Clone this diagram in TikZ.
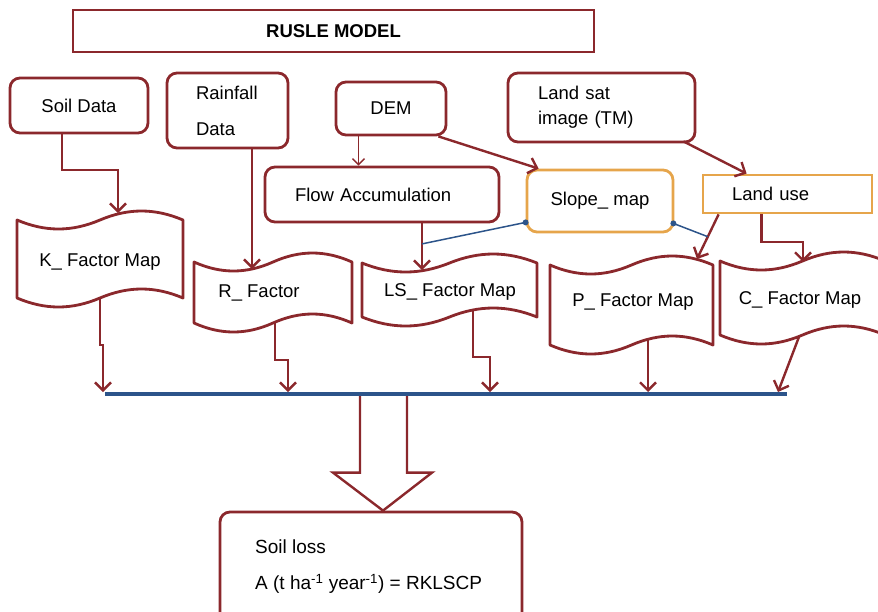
\documentclass[tikz,border=0pt]{standalone}
\usepackage{fontspec}
\setmainfont{Liberation Sans}
\usetikzlibrary{arrows.meta,calc,backgrounds}
\definecolor{dred}{RGB}{139,40,44}
\definecolor{gold}{RGB}{230,165,75}
\definecolor{dblue}{RGB}{44,84,138}
\newcommand{\tapepath}[4]{%
  \draw[tape] (#1,#3)
    .. controls ({#1+0.17*(#2-#1)},{#3+12}) and ({#1+0.33*(#2-#1)},{#3+12}) .. ({0.5*(#1+#2)},#3)
    .. controls ({#1+0.67*(#2-#1)},{#3-12}) and ({#1+0.83*(#2-#1)},{#3-12}) .. (#2,#3)
    -- (#2,#4)
    .. controls ({#1+0.83*(#2-#1)},{#4-12}) and ({#1+0.67*(#2-#1)},{#4-12}) .. ({0.5*(#1+#2)},#4)
    .. controls ({#1+0.33*(#2-#1)},{#4+12}) and ({#1+0.17*(#2-#1)},{#4+12}) .. (#1,#4) -- cycle;}
\tikzset{
  fs/.style={font=\fontsize{18.5}{22}\selectfont},
  rbox/.style={draw=dred, line width=2.8pt, rounded corners=10pt, fill=white, fs, inner sep=0pt},
  obox/.style={draw=gold, line width=2.8pt, fill=white, fs, inner sep=0pt},
  tape/.style={draw=dred, line width=2.8pt, fill=white, line join=round},
  arr/.style={draw=dred, line width=2.4pt, -{Straight Barb[length=8pt,width=16pt]}},
  thinarr/.style={draw=dred, line width=1.4pt, -{Straight Barb[length=6pt,width=12pt]}},
  link/.style={draw=dblue, line width=1.5pt},
  hollow/.style={draw=dred, line width=2.4pt, line join=miter},
  bar/.style={draw=dblue, line width=3.2pt},
  ttext/.style={fs, inner sep=2pt},
}
\begin{document}
\begin{tikzpicture}[x=1pt,y=-1pt]
\useasboundingbox (0,0) rectangle (878,611);

% title
\node[draw=dred, line width=2.6pt, minimum width=521pt, minimum height=42pt, inner sep=0pt,
      font=\bfseries\fontsize{18.5}{22}\selectfont] (title) at (333.5,31) {RUSLE MODEL};

% input boxes
\node[rbox, minimum width=138pt, minimum height=55pt] (soil) at (79,105.5) {Soil Data};
\node[rbox, minimum width=121pt, minimum height=75pt, text width=63pt, inner xsep=29pt, align=left]
     (rain) at (227.5,110.5) {Rainfall\\[14pt]Data};
\node[rbox, minimum width=110pt, minimum height=53pt] (dem) at (391,108.5) {DEM};
\node[rbox, minimum width=187pt, minimum height=69pt, text width=127pt, inner xsep=30pt, align=left,
      font=\fontsize{18.5}{25}\selectfont] (landsat) at (601.5,107.5) {Land sat\\image (TM)};
\node[rbox, minimum width=234pt, minimum height=55pt, text width=174pt, inner xsep=30pt, align=left]
     (flow) at (382,194.5) {Flow Accumulation};
\node[obox, rounded corners=10pt, minimum width=146pt, minimum height=62pt] (slope) at (600,201) {Slope\_ map};
\node[obox, minimum width=169pt, minimum height=38pt, text width=111pt, inner xsep=29pt, align=left]
     (landuse) at (787.5,194) {Land use};

% factor maps (punched tape shapes)
\tapepath{17}{183}{220}{298}
\node[ttext] (kmap) at (100,262) {K\_ Factor Map};
\tapepath{194}{352}{262}{323}
\node[ttext] (rmap) at (259,293) {R\_ Factor};
\tapepath{362}{537}{263}{317}
\node[ttext] (lsmap) at (450,292) {LS\_ Factor Map};
\tapepath{550}{713}{265}{345}
\node[ttext] (pmap) at (633,302) {P\_ Factor Map};
\tapepath{720}{885}{261}{335}
\node[ttext] (cmap) at (800,300) {C\_ Factor Map};

% entry points on the maps
\coordinate (kin) at (118,213);
\coordinate (rin) at (252,269);
\coordinate (lsin) at (422,270);
\coordinate (pin) at (697,259);
\coordinate (cin) at (803,262);

% incoming connectors
\draw[arr] ($(soil.south)+(-17,0)$) |- ($(kin)+(0,-43)$) -| (kin);
\draw[arr] (rain.south -| rin) -- (rin);
\coordinate (demo) at ($(dem.south west)+(24,0)$);
\draw[thinarr] (demo) -- (demo |- flow.north);
\draw[arr] ($(dem.south east)+(-9,0)$) -- ($(slope.north west)+(13,0)$);
\draw[arr] (flow.south -| lsin) -- (lsin);
\draw[arr] ($(landsat.south east)+(-13,-2)$) -- ($(landuse.north west)+(45,0)$);
\coordinate (lup) at ($(landuse.south west)+(17,0)$);
\draw[arr] (lup) -- (pin);
\draw[arr] ($(landuse.south west)+(60,0)$) |- ($(cin)+(0,-20)$) -| (cin);

% blue links from slope map
\coordinate (sl1) at ($(slope.south west)+(0,-11)$);
\draw[link] (sl1) -- ($(flow.south -| lsin)!0.44!(lsin)$);
\fill[dblue] (sl1) circle (3pt);
\coordinate (sl2) at ($(slope.south east)+(-1,-10)$);
\draw[link] (sl2) -- ($(lup)!0.5!(pin)$);
\fill[dblue] (sl2) circle (3pt);

% collecting bar
\coordinate (barL) at (105,394);
\coordinate (barR) at (787,394);
\coordinate (bK) at (103,392);
\coordinate (bR) at (288,392);
\coordinate (bLS) at (490,392);
\coordinate (bP) at (648,392);
\coordinate (bC) at (778,392);

\begin{scope}[on background layer]
  \draw[arr] (kmap.south) |- ($(bK)+(0,-47)$) -| (bK);
  \draw[arr] ($(rmap.south)+(16,0)$) |- ($(bR)+(0,-32)$) -| (bR);
  \draw[arr] ($(lsmap.south)+(23,0)$) |- ($(bLS)+(0,-35)$) -| (bLS);
  \draw[arr] ($(pmap.south)+(15,0)$) -- (bP);
  \draw[arr] ($(cmap.south)+(9,0)$) -- (bC);
\end{scope}

% result
\node[rbox, minimum width=302pt, minimum height=120pt] (loss) at (371,572) {};
\node[font=\fontsize{19}{36}\selectfont, align=left, anchor=north west, inner sep=0pt]
     (losstext) at (255,540) {Soil loss\\A (t ha\textsuperscript{-1} year\textsuperscript{-1}) = RKLSCP};
\coordinate (tip) at ($(loss.north)+(12,0)$);
\draw[hollow] ($(tip)+(-23,-117)$) -- ++(0,79) -- ++(-27,0) -- (tip) -- ++(49,-38) -- ++(-25,0) -- ++(0,-79);

\draw[bar] (barL) -- (barR);
\end{tikzpicture}
\end{document}
